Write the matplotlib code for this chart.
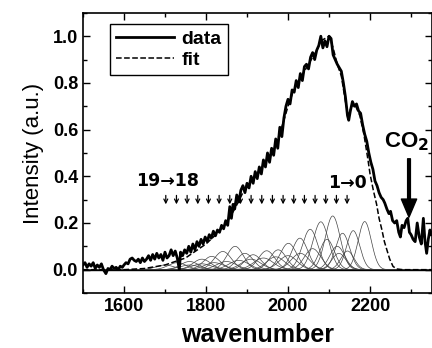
import numpy as np
import matplotlib.pyplot as plt
from matplotlib.ticker import MultipleLocator

plt.rcParams['font.family'] = ['Liberation Sans', 'DejaVu Sans']

# measured spectrum (wavenumber, intensity)
wn = [1500, 1505, 1510, 1515, 1520, 1525, 1530, 1535, 1540, 1545, 1550, 1556, 1561, 1566,
      1571, 1576, 1581, 1586, 1591, 1596, 1600, 1605, 1610, 1615, 1620, 1625, 1630, 1635,
      1640, 1645, 1650, 1655, 1660, 1665, 1670, 1675, 1680, 1685, 1690, 1695, 1700, 1705,
      1710, 1715, 1720, 1725, 1730, 1735, 1738, 1743, 1748, 1753, 1758, 1763, 1768, 1773,
      1778, 1783, 1788, 1793, 1798, 1803, 1808, 1813, 1818, 1823, 1828, 1833, 1838, 1843,
      1848, 1853, 1858, 1862, 1866, 1870, 1875, 1880, 1885, 1890, 1895, 1900, 1905, 1910,
      1915, 1920, 1925, 1930, 1935, 1940, 1945, 1950, 1955, 1960, 1965, 1970, 1975, 1980,
      1985, 1990, 1995, 2000, 2005, 2010, 2015, 2020, 2025, 2030, 2035, 2040, 2045, 2050,
      2055, 2060, 2065, 2070, 2075, 2080, 2085, 2090, 2095, 2100, 2105, 2110, 2115, 2120,
      2125, 2130, 2135, 2140, 2145, 2148, 2152, 2157, 2162, 2167, 2172, 2177, 2182, 2187,
      2192, 2197, 2202, 2207, 2212, 2217, 2222, 2227, 2232, 2236, 2241, 2246, 2250, 2255,
      2260, 2265, 2270, 2274, 2278, 2283, 2288, 2292, 2296, 2300, 2305, 2310, 2315, 2320,
      2325, 2330, 2334, 2338, 2342, 2346, 2350]
data = [0.02, 0.03, 0.01, 0.025, 0.015, 0.03, 0.005, 0.02, 0.01, 0.025, 0.0, -0.017, 0.005, 0.0,
        0.015, 0.005, 0.01, 0.0, 0.015, 0.01, 0.02, 0.03, 0.025, 0.045, 0.05, 0.04, 0.035, 0.045,
        0.03, 0.05, 0.035, 0.045, 0.06, 0.04, 0.065, 0.045, 0.07, 0.05, 0.065, 0.04, 0.075, 0.05,
        0.06, 0.085, 0.06, 0.08, 0.05, 0.0, 0.075, 0.06, 0.085, 0.07, 0.1, 0.075, 0.11, 0.085,
        0.12, 0.1, 0.13, 0.11, 0.14, 0.12, 0.15, 0.135, 0.165, 0.145, 0.17, 0.16, 0.19, 0.175,
        0.21, 0.19, 0.27, 0.22, 0.28, 0.26, 0.32, 0.29, 0.34, 0.36, 0.33, 0.37, 0.35, 0.4,
        0.37, 0.42, 0.39, 0.44, 0.41, 0.47, 0.44, 0.5, 0.46, 0.52, 0.49, 0.56, 0.52, 0.61,
        0.57, 0.65, 0.7, 0.73, 0.71, 0.77, 0.76, 0.81, 0.78, 0.84, 0.81, 0.87, 0.88, 0.86,
        0.91, 0.93, 0.9, 0.94, 0.96, 1.0, 0.95, 0.98, 0.955, 1.0, 0.99, 0.92, 0.9, 0.88,
        0.865, 0.85, 0.8, 0.74, 0.66, 0.64, 0.68, 0.72, 0.7, 0.71, 0.68, 0.67, 0.62, 0.58,
        0.55, 0.5, 0.46, 0.43, 0.38, 0.36, 0.33, 0.31, 0.3, 0.285, 0.26, 0.24, 0.25, 0.21,
        0.2, 0.21, 0.16, 0.14, 0.19, 0.18, 0.21, 0.22, 0.16, 0.15, 0.13, 0.12, 0.2, 0.14,
        0.11, 0.22, 0.12, 0.07, 0.13, 0.17, 0.15]

# fitted envelope
fit_wn = [1500, 1600, 1650, 1700, 1750, 1800, 1830, 1850, 1870, 1890, 1910, 1930, 1950, 1970,
          1990, 2000, 2010, 2020, 2030, 2040, 2050, 2060, 2070, 2080, 2090, 2100, 2110, 2120,
          2130, 2140, 2147, 2155, 2165, 2175, 2185, 2195, 2200, 2208, 2216, 2222, 2229, 2235,
          2241, 2248, 2256, 2265, 2280, 2350]
fit = [0.0, 0.0, 0.005, 0.02, 0.05, 0.11, 0.16, 0.2, 0.26, 0.33, 0.38, 0.42, 0.47, 0.53,
       0.64, 0.7, 0.75, 0.79, 0.82, 0.85, 0.88, 0.91, 0.94, 0.98, 0.99, 1.0, 0.95, 0.88,
       0.83, 0.72, 0.66, 0.7, 0.7, 0.66, 0.58, 0.47, 0.41, 0.34, 0.28, 0.22, 0.17, 0.12,
       0.085, 0.045, 0.014, 0.003, 0.0, 0.0]

# gaussian components: centre, height, sigma
comp_center = [1700, 1730, 1760, 1790, 1814, 1841, 1871, 1895, 1915, 1948, 1976, 2001, 2029,
               2054, 2080, 2095, 2109, 2124, 2133, 2159, 2187,
               1760, 1790, 1820, 1850, 1880, 1910, 1940, 1970, 2000, 2030, 2060, 2120, 2145]
comp_height = [0.02, 0.03, 0.035, 0.045, 0.057, 0.078, 0.1, 0.07, 0.064, 0.081, 0.085, 0.113,
               0.135, 0.173, 0.205, 0.13, 0.23, 0.07, 0.156, 0.167, 0.206,
               0.02, 0.025, 0.03, 0.035, 0.04, 0.045, 0.05, 0.055, 0.06, 0.07, 0.09, 0.1, 0.08]
comp_sigma = [22, 22, 22, 22, 21, 21, 20, 20, 20, 20, 20, 20, 19, 19, 19, 18, 18, 17, 17, 16, 16,
              24, 24, 24, 24, 24, 24, 24, 22, 22, 22, 20, 18, 16]

arrow_wn = [1702 + 26 * i for i in range(18)]

fig = plt.figure(figsize=(4.32, 3.48), dpi=100)
ax = fig.add_axes([0.192, 0.158, 0.807, 0.805])

xs = np.linspace(1500, 2350, 800)
for c, h, s in zip(comp_center, comp_height, comp_sigma):
    ax.plot(xs, h * np.exp(-(xs - c) ** 2 / (2 * s ** 2)), color='#444444', lw=0.5)

ax.axhline(0, color='k', lw=1.0)
ax.plot(fit_wn, fit, 'k--', lw=1.1, label='fit', zorder=3)
ax.plot(wn, data, 'k-', lw=2.0, label='data', zorder=4)

for a in arrow_wn:
    ax.annotate('', xy=(a, 0.268), xytext=(a, 0.33),
                arrowprops=dict(arrowstyle='->', lw=0.9, color='k', mutation_scale=7))
ax.text(1707, 0.38, '19→18', fontsize=12.5, fontweight='bold', ha='center', va='center',
        family=['DejaVu Sans'])
ax.text(2146, 0.37, '1→0', fontsize=12.5, fontweight='bold', ha='center', va='center',
        family=['DejaVu Sans'])
ax.text(2290, 0.55, 'CO$_\\mathbf{2}$', fontsize=16, fontweight='bold', ha='center', va='center')
ax.annotate('', xy=(2295, 0.225), xytext=(2295, 0.475),
            arrowprops=dict(width=2, headwidth=11, headlength=13, color='k'))

ax.set_xlim(1500, 2350)
ax.set_ylim(-0.1, 1.1)
ax.xaxis.set_major_locator(MultipleLocator(200))
ax.xaxis.set_minor_locator(MultipleLocator(100))
ax.yaxis.set_major_locator(MultipleLocator(0.2))
ax.yaxis.set_minor_locator(MultipleLocator(0.1))
ax.set_yticks([0.0, 0.2, 0.4, 0.6, 0.8, 1.0])
ax.tick_params(which='both', direction='in', top=True, right=True, width=1)
ax.tick_params(which='major', length=5, labelsize=13)
ax.tick_params(which='minor', length=3)
for lab in ax.get_xticklabels() + ax.get_yticklabels():
    lab.set_fontweight('bold')
for sp in ax.spines.values():
    sp.set_linewidth(1.2)

ax.set_xlabel('wavenumber', fontsize=18, fontweight='bold', labelpad=6)
ax.set_ylabel('Intensity (a.u.)', fontsize=16, labelpad=6)

h, l = ax.get_legend_handles_labels()
leg = ax.legend(h[::-1], l[::-1], loc='upper left', bbox_to_anchor=(0.077, 0.96),
                borderaxespad=0, fancybox=False, edgecolor='k', framealpha=1,
                prop={'weight': 'bold', 'size': 14}, handlelength=3.0,
                borderpad=0.3, labelspacing=0.2, handletextpad=0.4)
leg.get_frame().set_linewidth(1.0)

fig.savefig('out.png', dpi=100)
